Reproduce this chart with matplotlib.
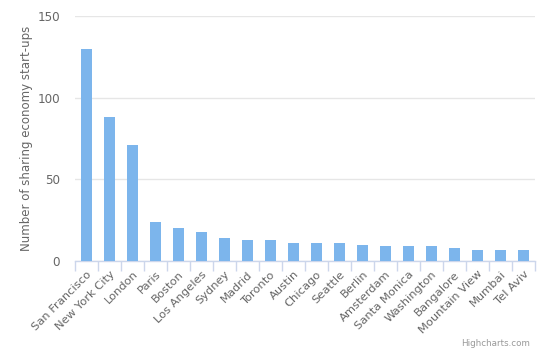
import matplotlib
matplotlib.use("Agg")
import matplotlib.pyplot as plt
import numpy as np

cities = ["San Francisco", "New York City", "London", "Paris", "Boston",
          "Los Angeles", "Sydney", "Madrid", "Toronto", "Austin", "Chicago",
          "Seattle", "Berlin", "Amsterdam", "Santa Monica", "Washington",
          "Bangalore", "Mountain View", "Mumbai", "Tel Aviv"]
startups = [130, 88, 71, 24, 20, 18, 14, 13, 13, 11, 11, 11, 10, 9, 9, 9,
            8, 7, 7, 7]
y_ticks = [0, 50, 100, 150]

DPI = 100
def px(v):
    # pixel size -> points
    return v * 72 / DPI

plt.rcParams["font.family"] = ["DejaVu Sans"]

fig = plt.figure(figsize=(5.54, 3.57), dpi=DPI)
ax = fig.add_axes([75 / 554, 1 - 261 / 357, 460 / 554, 245 / 357])

x = np.arange(len(cities))
ax.bar(x, startups, width=0.47, color="#7cb5ec", zorder=3)

ax.set_xlim(-0.5, len(cities) - 0.5)
ax.set_ylim(0, 150)
ax.set_yticks(y_ticks)
ax.yaxis.grid(True, color="#e6e6e6", linewidth=1, zorder=0)
ax.tick_params(axis="y", length=0, pad=px(15), labelsize=px(12),
               labelcolor="#666666")

ax.set_xticks(x)
ax.set_xticklabels(cities)
ax.set_xticks(np.arange(len(cities) + 1) - 0.5, minor=True)
ax.tick_params(axis="x", which="major", length=0, pad=px(8),
               labelsize=px(11.5), labelcolor="#666666")
ax.tick_params(axis="x", which="minor", length=px(10), width=1,
               color="#ccd6eb")
plt.setp(ax.get_xticklabels(), rotation=45, ha="right",
         rotation_mode="anchor")

for side in ["top", "right", "left"]:
    ax.spines[side].set_visible(False)
ax.spines["bottom"].set_color("#ccd6eb")
ax.spines["bottom"].set_linewidth(1)

ax.set_ylabel("Number of sharing economy start-ups", color="#666666",
              fontsize=px(11.7), labelpad=px(4))

fig.text(530 / 554, 1 - 344 / 357, "Highcharts.com", ha="right",
         va="center", color="#999999", fontsize=px(8.8))

fig.savefig("out.png", dpi=DPI)
